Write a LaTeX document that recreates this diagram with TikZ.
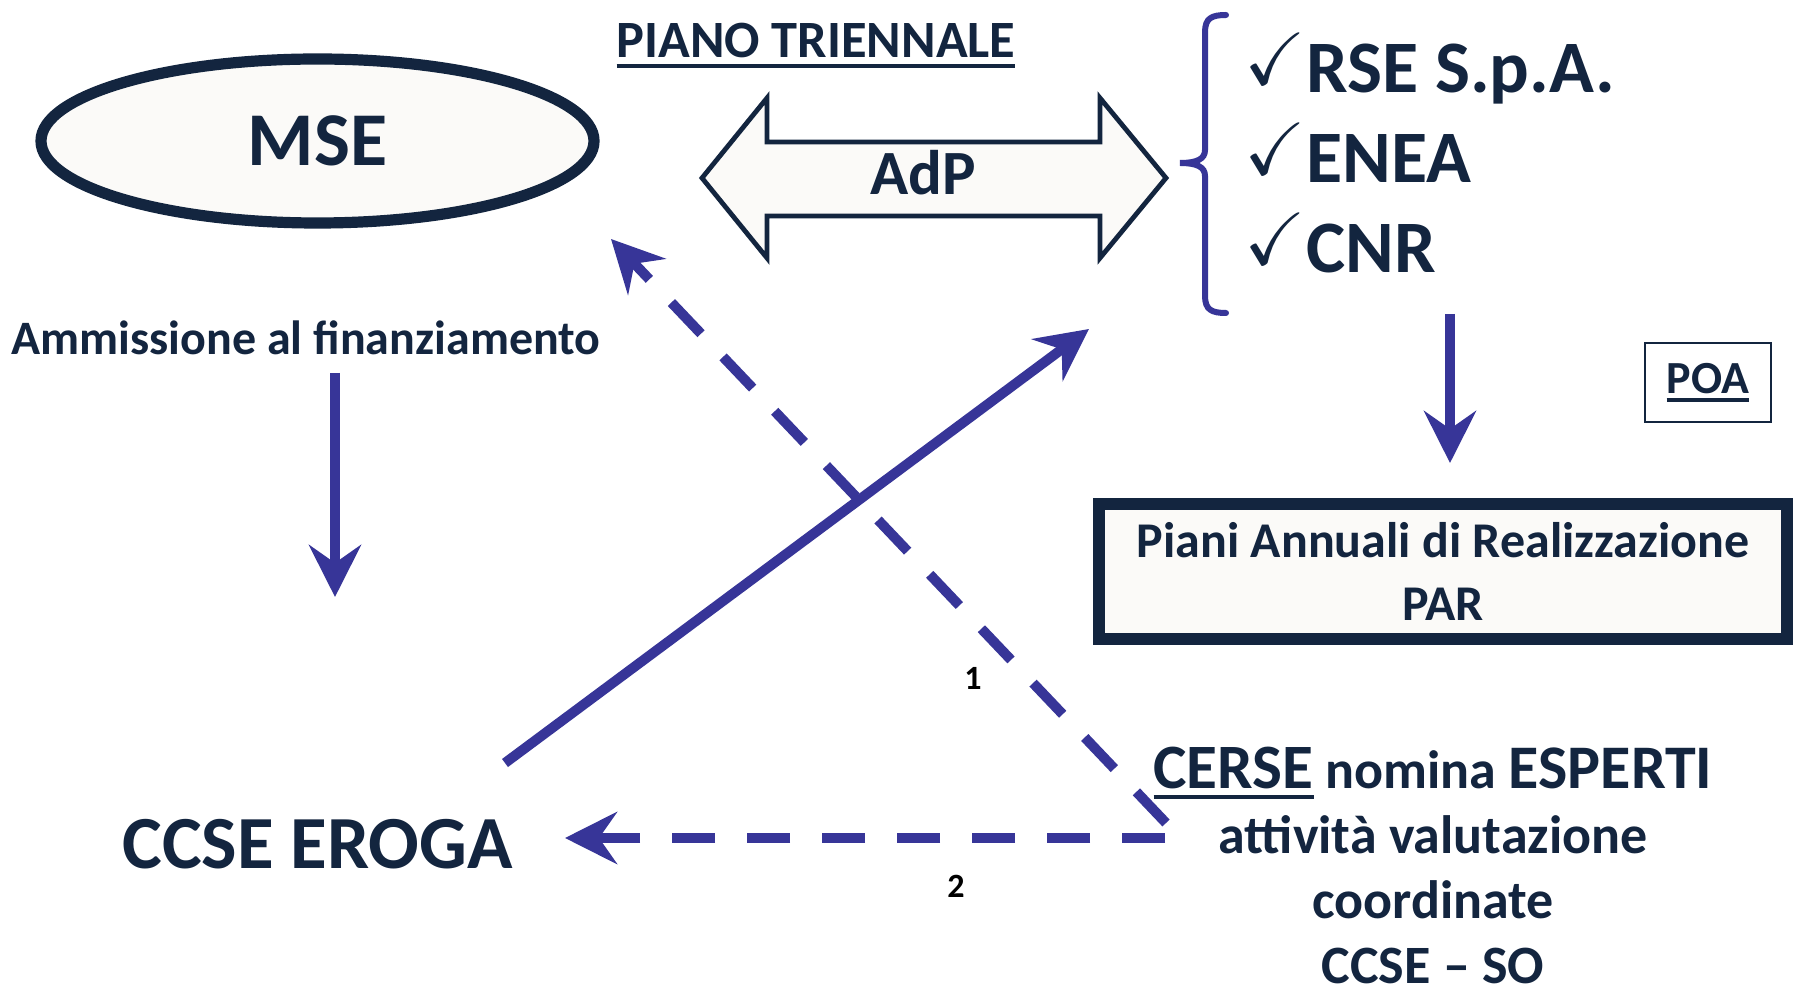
\documentclass[tikz,border=0pt]{standalone}
\usepackage{amssymb}
\usepackage{fontspec}
\setmainfont{Carlito}
\usetikzlibrary{arrows.meta,shapes.geometric}
\definecolor{navy}{HTML}{13253F}
\definecolor{arblue}{HTML}{373598}
\definecolor{offwhite}{HTML}{FBFAF8}
\newcommand{\fsz}[1]{\fontsize{#1pt}{#1pt}\selectfont}
\newcommand{\myul}[3]{\setbox0=\hbox{#1}\rlap{\rule[-#2]{\wd0}{#3}}\box0}
\newcommand{\chk}{\makebox[27.5pt][l]{\hspace{-3.5pt}\raisebox{4pt}{\fsz{37}$\checkmark$}}}
\begin{document}
\begin{tikzpicture}[x=0.5pt,y=-0.5pt,
  txt/.style={inner sep=0pt, text=navy, font=\bfseries},
  bluearrow/.style={draw=arblue, line width=5pt, -{Stealth[length=26pt,width=26pt,inset=9pt]}},
  dashedarrow/.style={bluearrow, dash pattern=on 21.5pt off 16pt},
  lbl/.style={inner sep=0pt, text=black, font=\bfseries\fsz{17}},
  bracestyle/.style={draw=arblue, line width=3pt, line cap=round}
]
\useasboundingbox (0,0) rectangle (1793,988);
\fill[white] (0,0) rectangle (1793,988);

% MSE ellipse
\node[ellipse, draw=navy, line width=5.6pt, fill=offwhite, minimum width=276.5pt, minimum height=82pt, inner sep=0pt, text=navy, font=\bfseries\fsz{38}] (mse) at (317.5,141) {MSE};

% Piano triennale
\node[txt, font=\bfseries\fsz{26.2}, anchor=base] (piano) at (816,58) {\myul{PIANO TRIENNALE}{5pt}{1.8pt}};

% AdP double arrow
\draw[draw=navy, fill=offwhite, line width=2.4pt, line join=miter]
  (702,178) -- (767,98) -- (767,142) -- (1100,142) -- (1100,98) -- (1166,178)
  -- (1100,258) -- (1100,216) -- (767,216) -- (767,258) -- cycle;
\node[txt, font=\bfseries\fsz{31.5}, anchor=base] (adp) at (923,195) {AdP};

% brace
\draw[bracestyle] (1226,15) .. controls (1212,15) and (1205,18) .. (1205,32)
  -- (1205,150) .. controls (1205,159) and (1197,163) .. (1180,163)
  .. controls (1197,163) and (1205,167) .. (1205,176)
  -- (1205,296) .. controls (1205,310) and (1212,313) .. (1226,313);

% list
\node[txt, font=\bfseries\fsz{37}, anchor=base west] (rse) at (1251,93) {\chk RSE S.p.A.};
\node[txt, font=\bfseries\fsz{37}, anchor=base west] (enea) at (1251,183) {\chk ENEA};
\node[txt, font=\bfseries\fsz{37}, anchor=base west] (cnr) at (1251,273) {\chk CNR};

% POA
\node[draw=navy, line width=1pt, minimum width=63pt, minimum height=39.5pt, inner sep=0pt, text=navy, font=\bfseries\fsz{23}] (poa) at (1708,382.5) {\myul{POA}{4pt}{1.6pt}};

% PAR box
\node[draw=navy, line width=6pt, fill=offwhite, minimum width=344pt, minimum height=67.5pt, inner sep=0pt, text=navy, align=center, font=\bfseries\fontsize{25pt}{31.5pt}\selectfont] (par) at (1443,571.5) {Piani Annuali di Realizzazione\\PAR};

% Ammissione
\node[txt, font=\bfseries\fsz{24}, anchor=base] (amm) at (306,355) {Ammissione al finanziamento};

% CCSE EROGA
\node[txt, font=\bfseries\fsz{37.5}, anchor=base west] (eroga) at (122,868) {CCSE EROGA};

% CERSE block (anchor base = baseline of last line)
\node[txt, align=center, font=\bfseries\fontsize{27pt}{32.5pt}\selectfont, anchor=base] (cerse) at (1433,983)
  {{\fsz{31.6}\myul{CERSE}{5.5pt}{2pt}} nomina {\fsz{31}ESPERTI}\\attività valutazione\\coordinate\\CCSE – SO};

% coordinates for connector ends
\coordinate (a1) at (335,373);
\coordinate (a2) at (335,597);
\coordinate (b1) at (1450,314);
\coordinate (b2) at (1450,463);
\coordinate (s1) at (505,763);
\coordinate (s2) at (1089,329);
\coordinate (d1s) at (1166,823);
\coordinate (d1e) at (611,239);
\coordinate (d2s) at (1165,838);
\coordinate (d2e) at (565,838);

\draw[bluearrow] (a1) -- (a2);
\draw[bluearrow] (b1) -- (b2);
\draw[bluearrow] (s1) -- (s2);
\draw[dashedarrow] (d1s) -- (d1e);
\draw[dashedarrow] (d2s) -- (d2e);

\node[lbl] (l1) at (973,678) {1};
\node[lbl] (l2) at (956,886) {2};
\end{tikzpicture}
\end{document}
